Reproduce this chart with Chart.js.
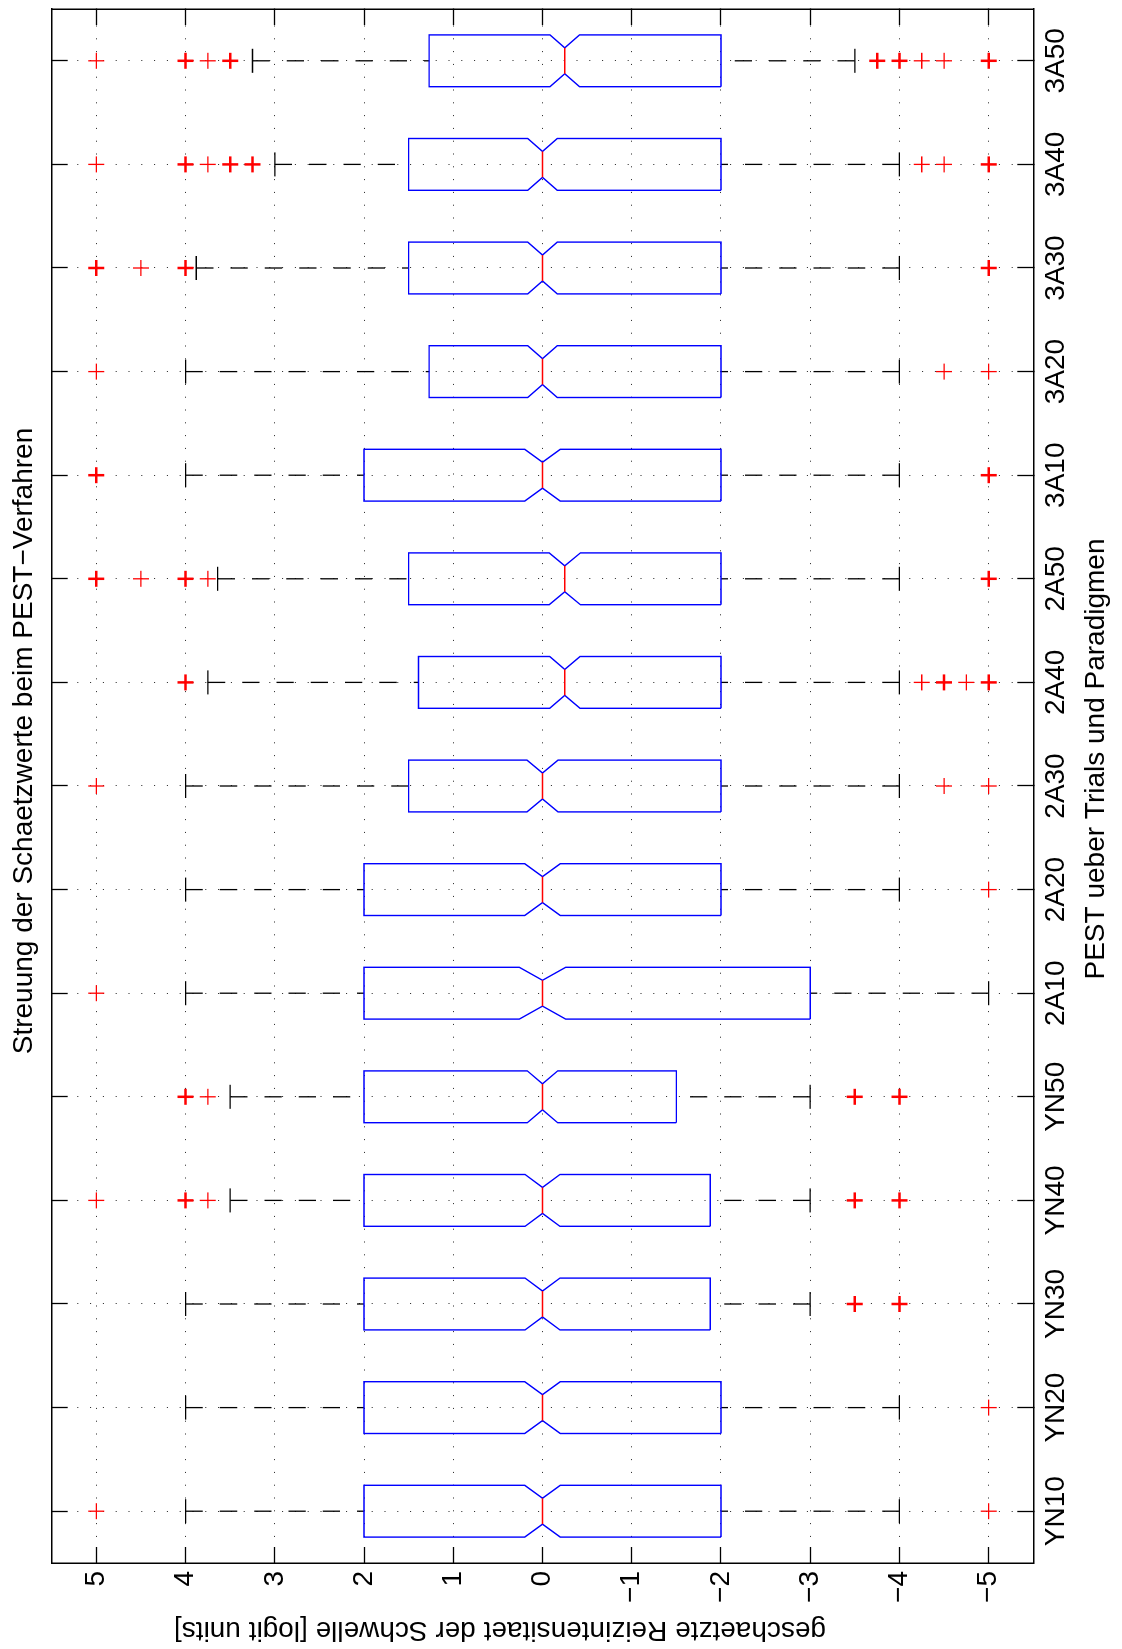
<!DOCTYPE html>
<html>
<head>
<meta charset="utf-8">
<title>Streuung der Schaetzwerte beim PEST-Verfahren</title>
<script src="https://cdn.jsdelivr.net/npm/chart.js@4.4.1/dist/chart.umd.min.js"></script>
<style>
  html, body { margin: 0; padding: 0; background: #fff; overflow: hidden; }
  /* the figure is drawn upright and then turned a quarter left, like the printed page */
  #wrap {
    position: absolute; left: 0; top: 0;
    width: 1649px; height: 1122px;
    transform-origin: 0 0;
    transform: translateY(1649px) rotate(-90deg);
  }
</style>
</head>
<body>
<div id="wrap"><canvas id="chart" width="1649" height="1122"></canvas></div>
<script>
// Daten
const categories = ['YN10', 'YN20', 'YN30', 'YN40', 'YN50', '2A10', '2A20', '2A30', '2A40', '2A50', '3A10', '3A20', '3A30', '3A40', '3A50'];
const q3 =          [2, 2, 2, 2, 2, 2, 2, 1.5, 1.39, 1.5, 2, 1.27, 1.5, 1.5, 1.27];
const median =      [0, 0, 0, 0, 0, 0, 0, 0, -0.25, -0.25, 0, 0, 0, 0, -0.25];
const q1 =          [-2, -2, -1.88, -1.88, -1.5, -3, -2, -2, -2, -2, -2, -2, -2, -2, -2];
const notch =       [0.2, 0.2, 0.195, 0.195, 0.17, 0.26, 0.2, 0.175, 0.17, 0.175, 0.2, 0.165, 0.165, 0.165, 0.165];
const whiskerHigh = [4, 4, 4, 3.5, 3.5, 4, 4, 4, 3.75, 3.64, 4, 4, 3.88, 3, 3.25];
const whiskerLow =  [-4, -4, -3, -3, -3, -5, -4, -4, -4, -4, -4, -4, -4, -4, -3.5];
const outliers = [
  [5, -5],
  [-5],
  [-3.5, -3.5, -4, -4],
  [5, 4, 4, 3.75, -3.5, -3.5, -4, -4],
  [4, 4, 3.75, -3.5, -3.5, -4, -4],
  [5],
  [-5],
  [5, -4.5, -5],
  [4, 4, -4.25, -4.5, -4.5, -4.75, -5, -5],
  [5, 5, 4.5, 4, 4, 3.75, -5, -5],
  [5, 5, -5, -5],
  [5, -4.5, -5],
  [5, 5, 4.5, 4, 4, -5, -5],
  [5, 4, 4, 3.75, 3.5, 3.5, 3.25, 3.25, -4.25, -4.5, -5, -5],
  [5, 4, 4, 3.75, 3.5, 3.5, -3.75, -3.75, -4, -4, -4.25, -4.5, -5, -5]
];
const valueTicks = [-5, -4, -3, -2, -1, 0, 1, 2, 3, 4, 5];

const titleText = 'Streuung der Schaetzwerte beim PEST\u2212Verfahren';
const xLabel = 'PEST ueber Trials und Paradigmen';
const yLabel = 'geschaetzte Reizintensitaet der Schwelle [logit units]';

const FONT = '"Liberation Sans", Arial, Helvetica, sans-serif';
const BOX_W = 0.25;     // halbe Boxbreite
const NOTCH_W = 0.125;  // halbe Breite an der Kerbe
const CAP_W = 0.116;    // halbe Laenge der Whisker-Enden

// Punkte fuer Boxen, Mediane, Whisker
const boxPts = [], medPts = [], whiskPts = [], capPts = [], outPts = [];
categories.forEach((c, i) => {
  const x = i + 1;
  const m = median[i], n = notch[i];
  boxPts.push(
    {x: x - BOX_W, y: q1[i]}, {x: x - BOX_W, y: m - n}, {x: x - NOTCH_W, y: m},
    {x: x - BOX_W, y: m + n}, {x: x - BOX_W, y: q3[i]}, {x: x + BOX_W, y: q3[i]},
    {x: x + BOX_W, y: m + n}, {x: x + NOTCH_W, y: m}, {x: x + BOX_W, y: m - n},
    {x: x + BOX_W, y: q1[i]}, {x: x - BOX_W, y: q1[i]}, {x: x, y: null}
  );
  medPts.push({x: x - NOTCH_W, y: m}, {x: x + NOTCH_W, y: m}, {x: x, y: null});
  whiskPts.push({x: x, y: whiskerHigh[i]}, {x: x, y: q3[i]}, {x: x, y: null},
                {x: x, y: whiskerLow[i]}, {x: x, y: q1[i]}, {x: x, y: null});
  capPts.push({x: x - CAP_W, y: whiskerHigh[i]}, {x: x + CAP_W, y: whiskerHigh[i]}, {x: x, y: null},
              {x: x - CAP_W, y: whiskerLow[i]}, {x: x + CAP_W, y: whiskerLow[i]}, {x: x, y: null});
  // gleiche Werte zusammenfassen, mehrfache werden dicker gezeichnet
  const counts = {};
  outliers[i].forEach(v => { counts[v] = (counts[v] || 0) + 1; });
  Object.keys(counts).forEach(v => outPts.push({x: x, y: Number(v), n: counts[v]}));
});

const catTicks = s => { s.ticks = categories.map((c, i) => ({value: i + 1})); };
const valTicks = s => { s.ticks = valueTicks.map(v => ({value: v})); };
const minus = v => (v < 0 ? '\u2212' + Math.abs(v) : String(v));

const gridStyle = {color: '#222', lineWidth: 1, tickLength: -16, tickColor: '#000', tickWidth: 1.3};
const frame = {display: true, color: '#000', width: 1.5, dash: [1, 11.8]};

// Titel und Achsenbeschriftungen
const axisText = {
  id: 'axisText',
  afterDraw(chart) {
    const ctx = chart.ctx;
    ctx.save();
    ctx.fillStyle = '#000';
    ctx.textAlign = 'center';
    ctx.textBaseline = 'alphabetic';
    ctx.font = '28px ' + FONT;
    ctx.fillText(titleText, 908, 32);
    ctx.fillText(xLabel, 890, 1103.5);
    ctx.translate(27, 500);
    ctx.rotate(-Math.PI / 2);
    ctx.fillText(yLabel, 0, 0);
    ctx.restore();
  }
};

new Chart(document.getElementById('chart'), {
  type: 'line',
  data: {
    datasets: [
      {type: 'line', data: whiskPts, borderColor: '#000', borderWidth: 1.3, borderDash: [17.3, 17],
       pointRadius: 0, spanGaps: false, order: 4},
      {type: 'line', data: capPts, borderColor: '#000', borderWidth: 1.3,
       pointRadius: 0, spanGaps: false, order: 3},
      {type: 'line', data: boxPts, borderColor: '#0000ff', borderWidth: 1.4, borderJoinStyle: 'miter',
       pointRadius: 0, spanGaps: false, order: 2},
      {type: 'line', data: medPts, borderColor: '#ff0000', borderWidth: 1.5,
       pointRadius: 0, spanGaps: false, order: 1},
      {type: 'scatter', data: outPts, showLine: false, pointStyle: 'cross', pointRadius: 8,
       pointHoverRadius: 8, borderColor: '#ff0000', backgroundColor: '#ff0000',
       pointBorderWidth: ctx => (ctx.raw && ctx.raw.n > 1 ? 2.5 : 1.3), order: 0}
    ]
  },
  options: {
    responsive: false,
    animation: false,
    events: [],
    layout: {autoPadding: false, padding: {top: 51.7, left: 0, right: 9, bottom: 0}},
    plugins: {legend: {display: false}, title: {display: false}, tooltip: {enabled: false}},
    scales: {
      x: {
        type: 'linear', position: 'bottom', min: 0.5, max: 15.5,
        afterBuildTicks: catTicks,
        afterFit: s => { s.height = 88.7; },
        ticks: {autoSkip: false, maxRotation: 0, padding: 22, color: '#000',
                font: {family: FONT, size: 28}, callback: v => categories[v - 1]},
        grid: gridStyle, border: frame
      },
      y: {
        type: 'linear', position: 'left', min: -5.5, max: 5.5,
        afterBuildTicks: valTicks,
        afterFit: s => { s.width = 86; },
        ticks: {padding: 24, color: '#000', font: {family: FONT, size: 28}, callback: minus},
        grid: gridStyle, border: frame
      },
      x2: {
        type: 'linear', position: 'top', min: 0.5, max: 15.5,
        afterBuildTicks: catTicks,
        afterFit: s => { s.height = 0; },
        ticks: {display: false},
        grid: Object.assign({}, gridStyle, {drawOnChartArea: false}), border: frame
      },
      y2: {
        type: 'linear', position: 'right', min: -5.5, max: 5.5,
        afterBuildTicks: valTicks,
        afterFit: s => { s.width = 0; },
        ticks: {display: false},
        grid: Object.assign({}, gridStyle, {drawOnChartArea: false}), border: frame
      }
    }
  },
  plugins: [axisText]
});
</script>
</body>
</html>
